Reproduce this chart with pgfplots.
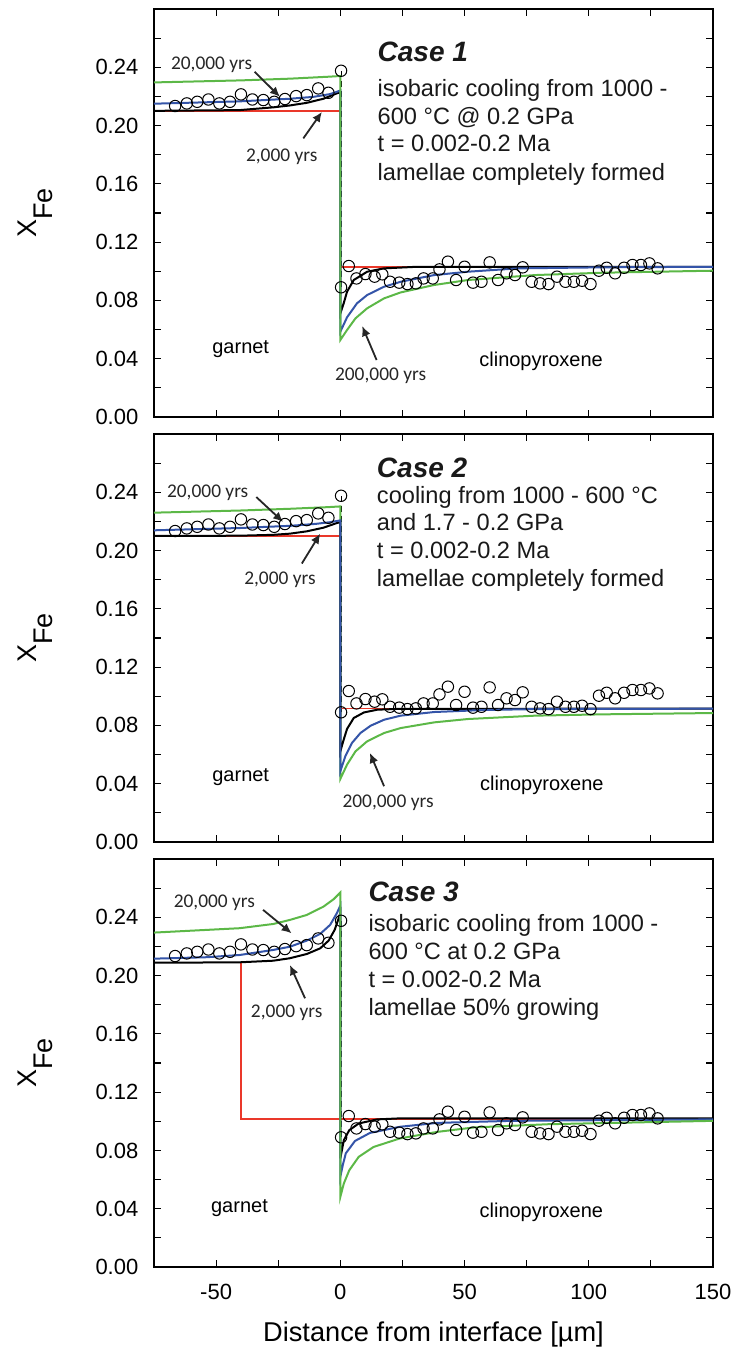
\documentclass[border=0pt]{standalone}
\usepackage{fontspec}
\setmainfont{Liberation Sans}
\newfontfamily\yrsfont{Carlito}
\usepackage{pgfplots}
\usepackage{pgfplotstable}
\pgfplotsset{compat=1.18}
\usetikzlibrary{arrows.meta}
\definecolor{cgreen}{RGB}{92,184,71}
\definecolor{cblue}{RGB}{52,84,168}
\definecolor{cred}{RGB}{234,56,42}

% measured profile (same in all three panels)
\pgfplotstableread{
x y
-66.5 0.2134
-61.8 0.2152
-57.6 0.2163
-53.1 0.2179
-48.7 0.2152
-44.4 0.2163
-40.0 0.2214
-35.4 0.2179
-31.0 0.2175
-26.6 0.2163
-22.3 0.2182
-17.8 0.2202
-13.5 0.2209
-8.9 0.2255
-4.8 0.2225
0.3 0.2376
0.3 0.0890
3.4 0.1036
6.5 0.0951
10.1 0.0981
13.8 0.0963
16.9 0.0979
20.0 0.0928
23.7 0.0922
27.0 0.0912
30.4 0.0917
33.5 0.0951
37.2 0.0951
39.9 0.1013
43.3 0.1066
46.6 0.0940
50.0 0.1031
53.4 0.0922
56.8 0.0928
60.1 0.1061
63.5 0.0940
66.9 0.0986
70.3 0.0974
73.4 0.1027
77.0 0.0928
80.4 0.0917
83.8 0.0912
87.2 0.0963
90.6 0.0928
94.0 0.0928
97.3 0.0935
100.7 0.0912
104.1 0.1004
107.2 0.1024
110.6 0.0986
114.2 0.1024
117.6 0.1043
121.0 0.1043
124.4 0.1054
127.7 0.1020
}\meas

\pgfplotsset{
  panel/.style={
    scale only axis, width=279.5pt, height=204pt,
    anchor=south west,
    xmin=-75, xmax=150, ymin=0, ymax=0.28,
    xtick={-50,0,50,100,150}, minor xtick={-25,25,75,125},
    ytick={0,0.04,0.08,0.12,0.16,0.2,0.24},
    minor ytick={0.02,0.06,0.1,0.14,0.18,0.22,0.26},
    tick align=inside, tick pos=both,
    major tick length=3.5pt, minor tick length=3.5pt,
    tick style={black, line width=0.6pt},
    axis line style={line width=1pt},
    /pgf/number format/assume math mode=true,
    yticklabel style={/pgf/number format/fixed, /pgf/number format/fixed zerofill,
      /pgf/number format/precision=2, font=\fontsize{11}{11}\selectfont, xshift=-4.3pt},
    xticklabel style={font=\fontsize{11}{11}\selectfont, yshift=-4.8pt},
    ylabel={\fontsize{13.5}{14}\selectfont X\raisebox{-8pt}{Fe}},
    ylabel style={at={(axis description cs:-0.211,0.5)}, anchor=base},
  },
  meas/.style={only marks, mark=o, mark size=2.85pt, black, line width=0.5pt},
  curve/.style={line width=1pt},
}
\tikzset{
  yrs/.style={font=\yrsfont\fontsize{9.7}{10}\selectfont, text=black!85},
  phase/.style={font=\fontsize{10}{12}\selectfont},
  arr/.style={-{Latex[length=5pt,width=4.5pt]}, line width=0.9pt, black!85},
  case/.style={anchor=base west, font=\fontsize{14}{16}\selectfont\bfseries\itshape, text=black!90},
  cline/.style={anchor=base west, font=\fontsize{11.8}{13}\selectfont, text=black!90},
  iface/.style={black, line width=0.6pt, dash pattern=on 3pt off 2pt},
}

\begin{document}
\begin{tikzpicture}
\path[use as bounding box] (-77pt,-46pt) rectangle (288pt,633.5pt);

% ---------------- Case 1
\begin{axis}[panel, at={(0pt,425pt)}, xticklabels={}]
\addplot[meas] table {\meas};
\draw[iface] (axis cs:0.6,0.2376) -- (axis cs:0.6,0.089);
\addplot[cred, line width=0.7pt] coordinates {(-75,0.210) (0,0.210) (0,0.103) (150,0.103)};
\addplot[black, curve] coordinates {(-75,0.2101) (-40.6,0.2106) (-27,0.2125) (-20.3,0.2138) (-13.5,0.2156) (-6.8,0.2184) (-1.4,0.2221) (0,0.2228)
  (0,0.0711) (1.35,0.078) (2.7,0.086) (5.4,0.094) (10.8,0.0997) (17.6,0.102) (31.1,0.1031) (150,0.1031)};
\addplot[cblue, curve] coordinates {(-75,0.2150) (-40.6,0.2166) (-20.3,0.2184) (-10.8,0.2197) (-4.1,0.2216) (-0.7,0.2236) (0,0.2240)
  (0,0.0585) (2.7,0.0684) (6.7,0.0780) (10.8,0.0837) (17.6,0.0894) (24.3,0.0928) (37.8,0.0974) (51.4,0.0997) (71.6,0.1020) (105,0.1027) (150,0.1031)};
\addplot[cgreen, curve] coordinates {(-75,0.2296) (-40,0.2310) (-20,0.2322) (-5,0.2335) (0,0.2340)
  (0,0.0528) (2.7,0.0597) (6.1,0.0677) (10.8,0.0746) (17.6,0.0814) (24.3,0.0855) (37.8,0.0906) (51.4,0.0940) (78.4,0.0974) (105.4,0.0990) (150,0.1004)};
\node[yrs] at (axis cs:-51.8,0.2415) {20,000 yrs};
\draw[arr] (axis cs:-34.5,0.2369) -- (axis cs:-24.3,0.2197);
\node[yrs] at (axis cs:-23.6,0.1786) {2,000 yrs};
\draw[arr] (axis cs:-14.9,0.1912) -- (axis cs:-7.4,0.2094);
\node[yrs] at (axis cs:16.2,0.0281) {200,000 yrs};
\draw[arr] (axis cs:14.6,0.0391) -- (axis cs:8.8,0.0624);
\node[phase] at (axis cs:-40.1,0.0466) {garnet};
\node[phase] at (axis cs:80.8,0.0384) {clinopyroxene};
\node[case] at (axis cs:12.2,0.2437) {Case 1};
\node[cline] at (axis cs:12.2,0.2197) {isobaric cooling from 1000 -};
\node[cline] at (axis cs:12.2,0.2008) {600 °C @ 0.2 GPa};
\node[cline] at (axis cs:12.2,0.1820) {t = 0.002-0.2 Ma};
\node[cline] at (axis cs:12.2,0.1626) {lamellae completely formed};
\end{axis}

% ---------------- Case 2
\begin{axis}[panel, at={(0pt,212.5pt)}, xticklabels={}]
\addplot[meas] table {\meas};
\draw[iface] (axis cs:0.6,0.2376) -- (axis cs:0.6,0.089);
\addplot[cred, line width=0.7pt] coordinates {(-75,0.210) (0,0.210) (0,0.0915) (150,0.0915)};
\addplot[cgreen, curve] coordinates {(-75,0.2260) (-40,0.2275) (-20,0.2287) (-5,0.2298) (0,0.2303)
  (0,0.0433) (2.7,0.0531) (6.1,0.0622) (10.8,0.0691) (17.6,0.0748) (24.3,0.0782) (37.8,0.0821) (51.4,0.0844) (78.4,0.0867) (105.4,0.0876) (150,0.0885)};
\addplot[black, curve] coordinates {(-75,0.2100) (-40.6,0.2102) (-27,0.2108) (-20.3,0.2116) (-13.5,0.2132) (-6.8,0.2157) (-1.4,0.2189) (0,0.2195)
  (0,0.0622) (1.35,0.0702) (2.7,0.0776) (5.4,0.0851) (9.5,0.0889) (14.9,0.0908) (24.3,0.0914) (150,0.0915)};
\addplot[cblue, curve] coordinates {(-75,0.2139) (-40,0.2155) (-20,0.2170) (-10,0.2183) (-4,0.2195) (0,0.2207)
  (0,0.0486) (2.0,0.0588) (4.7,0.0680) (8.1,0.0748) (12.2,0.0798) (17.6,0.0839) (24.3,0.0867) (37.8,0.0892) (58.1,0.0906) (78.4,0.0912) (150,0.0915)};
\node[yrs] at (axis cs:-53.4,0.2394) {20,000 yrs};
\draw[arr] (axis cs:-33.8,0.2367) -- (axis cs:-23.0,0.2196);
\node[yrs] at (axis cs:-24.3,0.1797) {2,000 yrs};
\draw[arr] (axis cs:-15.5,0.1911) -- (axis cs:-8.1,0.2116);
\node[yrs] at (axis cs:19.2,0.0269) {200,000 yrs};
\draw[arr] (axis cs:17.6,0.0383) -- (axis cs:11.9,0.0611);
\node[phase] at (axis cs:-40.1,0.0443) {garnet};
\node[phase] at (axis cs:81.1,0.0388) {clinopyroxene};
\node[case] at (axis cs:11.9,0.2503) {Case 2};
\node[cline] at (axis cs:11.9,0.2326) {cooling from 1000 - 600 °C};
\node[cline] at (axis cs:11.9,0.2139) {and 1.7 - 0.2 GPa};
\node[cline] at (axis cs:11.9,0.1945) {t = 0.002-0.2 Ma};
\node[cline] at (axis cs:11.9,0.1751) {lamellae completely formed};
\end{axis}

% ---------------- Case 3
\begin{axis}[panel, at={(0pt,0pt)},
  xlabel={Distance from interface [µm]},
  xlabel style={at={(axis description cs:0.5,-0.1838)}, anchor=base, font=\fontsize{13.6}{15}\selectfont}]
\addplot[meas] table {\meas};
\draw[iface] (axis cs:0.6,0.2376) -- (axis cs:0.6,0.089);
\addplot[cred, line width=0.7pt] coordinates {(-75,0.209) (-40,0.209) (-40,0.1015) (150,0.1015)};
\addplot[black, curve] coordinates {(-75,0.2088) (-40.6,0.2091) (-27,0.2102) (-20.3,0.2119) (-13.5,0.2148) (-8.1,0.2187) (-4.7,0.2240) (-2.3,0.2313) (-0.9,0.2382) (0,0.2430)
  (0,0.0745) (1.4,0.0870) (3.6,0.0939) (7.4,0.0985) (14.8,0.1013) (23.9,0.1020) (150,0.1020)};
\addplot[cblue, curve] coordinates {(-75,0.2116) (-53.7,0.2126) (-40.6,0.2141) (-27,0.2176) (-20.3,0.2198) (-13.5,0.2240) (-8.1,0.2286) (-4.1,0.2348) (-1.4,0.2428) (0,0.2480)
  (0,0.0620) (1,0.0700) (2.2,0.0780) (5.9,0.0865) (11.9,0.0920) (23.9,0.0962) (38.9,0.0989) (68.9,0.1003) (150,0.1013)};
\addplot[cgreen, curve] coordinates {(-75,0.2295) (-40.6,0.2325) (-27,0.2354) (-20.3,0.2382) (-13.5,0.2416) (-6.8,0.2473) (-2.7,0.2524) (0,0.2570)
  (0,0.0481) (1.4,0.0573) (3.6,0.0664) (7.4,0.0756) (13.4,0.0824) (23.9,0.0882) (38.9,0.0927) (53.9,0.0958) (83.9,0.0980) (150,0.1003)};
\node[yrs] at (axis cs:-50.7,0.2501) {20,000 yrs};
\draw[arr] (axis cs:-31.1,0.2451) -- (axis cs:-19.6,0.2290);
\node[yrs] at (axis cs:-21.6,0.1745) {2,000 yrs};
\draw[arr] (axis cs:-14.2,0.1844) -- (axis cs:-20.3,0.2073);
\node[phase] at (axis cs:-40.6,0.0401) {garnet};
\node[phase] at (axis cs:80.9,0.0374) {clinopyroxene};
\node[case] at (axis cs:8.5,0.2508) {Case 3};
\node[cline] at (axis cs:8.5,0.2301) {isobaric cooling from 1000 -};
\node[cline] at (axis cs:8.5,0.2107) {600 °C at 0.2 GPa};
\node[cline] at (axis cs:8.5,0.1919) {t = 0.002-0.2 Ma};
\node[cline] at (axis cs:8.5,0.1729) {lamellae 50\% growing};
\end{axis}
\end{tikzpicture}
\end{document}
